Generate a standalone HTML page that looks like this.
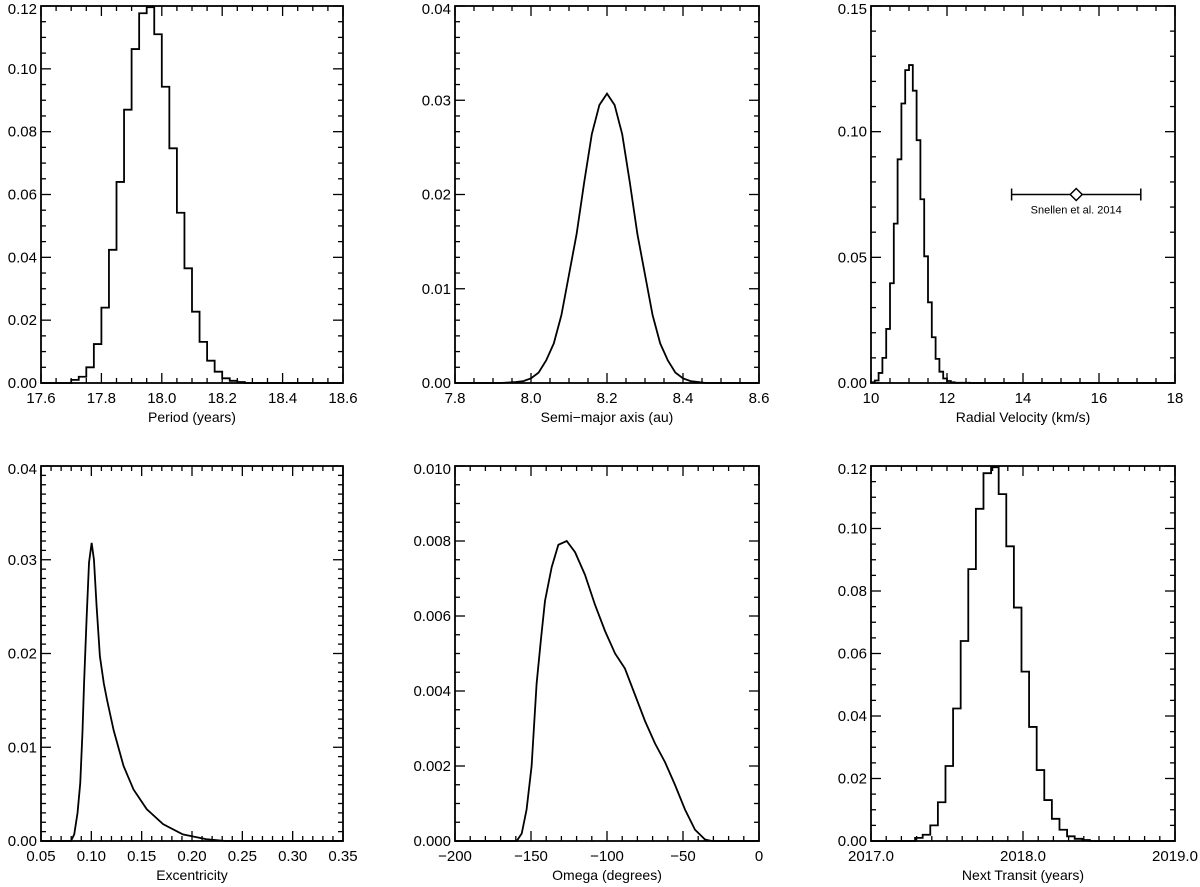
<!DOCTYPE html>
<html><head><meta charset="utf-8"><style>
html,body{margin:0;padding:0;background:#fff;}
svg{display:block;font-family:"Liberation Sans",sans-serif;}
</style></head><body>
<svg id="fig" width="1200" height="887" viewBox="0 0 1200 887" xmlns="http://www.w3.org/2000/svg"></svg>
<script>
// ---- Data ----
const periodBinStart = 17.6;
const periodBinWidth = 0.025;
const periodValues = [0,0,0,0,0.001,0.002,0.005,0.0124,0.024,0.0424,0.064,0.087,0.1063,0.1177,0.1196,0.111,0.0943,0.0747,0.0542,0.0365,0.0227,0.0131,0.0071,0.0036,0.0015,0.0007,0.0003,0,0];
const smaX = [7.90,7.92,7.94,7.96,7.98,8.00,8.02,8.04,8.06,8.08,8.10,8.12,8.14,8.16,8.18,8.20,8.22,8.24,8.26,8.28,8.30,8.32,8.34,8.36,8.38,8.40,8.42,8.44,8.46,8.50];
const smaY = [0,0,0.00005,0.0001,0.0002,0.0005,0.0011,0.0024,0.0042,0.0072,0.0115,0.0158,0.0213,0.0264,0.0295,0.0307,0.0295,0.0264,0.0213,0.0158,0.0115,0.0072,0.0042,0.0024,0.0011,0.0005,0.0002,0.0001,0,0];
const rvBinStart = 10.0;
const rvBinWidth = 0.1;
const rvValues = [0.0003,0.001,0.004,0.010,0.0215,0.0397,0.0634,0.089,0.1112,0.1245,0.1265,0.1163,0.0966,0.0731,0.0504,0.0321,0.0182,0.0096,0.0045,0.0018,0.0008,0.0003,0.0001,0.0001,0.0001,0.0001,0];
const snellenRV = [15.4];
const snellenErrLow = [13.7];
const snellenErrHigh = [17.1];
const snellenLevel = [0.075];
const eccX = [0.07,0.0797,0.083,0.0863,0.089,0.0912,0.0928,0.0954,0.0977,0.1003,0.1026,0.1052,0.1085,0.1124,0.1157,0.1222,0.132,0.1419,0.155,0.1713,0.1909,0.2138,0.2334,0.26];
const eccY = [0,0,0.0007,0.003,0.0062,0.0116,0.0169,0.024,0.0297,0.0318,0.030,0.0251,0.0197,0.0168,0.0150,0.0118,0.008,0.0055,0.0034,0.0018,0.0007,0.0002,0,0];
const omegaX = [-170,-159.4,-156.1,-152.9,-149.6,-146.3,-143.4,-140.8,-136.4,-132,-126.5,-121,-114.5,-107.9,-101.3,-94.7,-88.2,-81.6,-75,-68.4,-61.8,-55.3,-48.7,-42.1,-35.5,-31.1,-20];
const omegaY = [0,0,0.0002,0.00084,0.002,0.0042,0.0054,0.0064,0.0073,0.0079,0.008,0.0077,0.0071,0.0063,0.0056,0.005,0.0046,0.0039,0.0032,0.0026,0.0021,0.0015,0.00084,0.0003,0.00004,0,0];
const transitBinStart = 2017.09;
const transitBinWidth = 0.05;
const transitValues = [0,0,0,0,0.001,0.002,0.005,0.0124,0.024,0.0424,0.064,0.087,0.1063,0.1177,0.1196,0.111,0.0943,0.0747,0.0542,0.0365,0.0227,0.0131,0.0071,0.0036,0.0015,0.0007,0.0003,0,0];
// tick labels
const p1XTicks = ["17.6","17.8","18.0","18.2","18.4","18.6"];
const p1YTicks = ["0.00","0.02","0.04","0.06","0.08","0.10","0.12"];
const p2XTicks = ["7.8","8.0","8.2","8.4","8.6"];
const p2YTicks = ["0.00","0.01","0.02","0.03","0.04"];
const p3XTicks = ["10","12","14","16","18"];
const p3YTicks = ["0.00","0.05","0.10","0.15"];
const p4XTicks = ["0.05","0.10","0.15","0.20","0.25","0.30","0.35"];
const p4YTicks = ["0.00","0.01","0.02","0.03","0.04"];
const p5XTicks = ["\u2212200","\u2212150","\u2212100","\u221250","0"];
const p5YTicks = ["0.000","0.002","0.004","0.006","0.008","0.010"];
const p6XTicks = ["2017.0","2018.0","2019.0"];
const p6YTicks = ["0.00","0.02","0.04","0.06","0.08","0.10","0.12"];

const NS = "http://www.w3.org/2000/svg";
const svg = document.getElementById('fig');
function mk(tag, attrs, parent){const e=document.createElementNS(NS,tag);for(const k in attrs)e.setAttribute(k,attrs[k]);(parent||svg).appendChild(e);return e;}

function panel(cfg){
  const g = mk('g',{});
  
  
  const L=cfg.L,R=cfg.R,T=cfg.T,B=cfg.B;
  const sx=v=>L+(v-cfg.x0)/(cfg.x1-cfg.x0)*(R-L);
  const sy=v=>B-(v-cfg.y0)/(cfg.y1-cfg.y0)*(B-T);
  const tg = mk('g',{stroke:'#000','stroke-width':1.3},g);
  
  
  const nxMaj = cfg.xt.length-1;
  for(let i=0;i<=nxMaj*cfg.xsub;i++){
    const v=cfg.x0+(cfg.x1-cfg.x0)*i/(nxMaj*cfg.xsub);
    const x=sx(v); const len=(i%cfg.xsub===0)?10:5;
    mk('line',{x1:x,y1:B,x2:x,y2:B-len},tg);
    mk('line',{x1:x,y1:T,x2:x,y2:T+len},tg);
  }
  const nyMaj = cfg.yt.length-1;
  for(let i=0;i<=nyMaj*cfg.ysub;i++){
    const v=cfg.y0+(cfg.y1-cfg.y0)*i/(nyMaj*cfg.ysub);
    const y=sy(v); const len=(i%cfg.ysub===0)?10:5;
    mk('line',{x1:L,y1:y,x2:L+len,y2:y},tg);
    mk('line',{x1:R,y1:y,x2:R-len,y2:y},tg);
  }
  cfg.xt.forEach((t,i)=>{
    const v=cfg.x0+(cfg.x1-cfg.x0)*i/nxMaj;
    const tx=mk('text',{x:sx(v),y:B+20,'text-anchor':'middle','font-size':15},g);
    
    
    tx.textContent=t;
  });
  cfg.yt.forEach((t,i)=>{
    const v=cfg.y0+(cfg.y1-cfg.y0)*i/nyMaj;
    let y=sy(v)+5; if(i===nyMaj) y=sy(v)+8;
    const tx=mk('text',{x:L-4,y:y,'text-anchor':'end','font-size':15},g);
    
    
    tx.textContent=t;
  });
  const title=mk('text',{x:(L+R)/2,y:B+39,'text-anchor':'middle','font-size':14},g);
  
  
  title.textContent=cfg.title;
  let d='';
  if(cfg.bins){
    const vals=cfg.bins.values;
    d='M'+L+','+B;
    vals.forEach((v,i)=>{
      const xa=sx(cfg.bins.start+i*cfg.bins.width), xb=sx(cfg.bins.start+(i+1)*cfg.bins.width);
      d+=' L'+xa.toFixed(2)+','+sy(v).toFixed(2)+' L'+xb.toFixed(2)+','+sy(v).toFixed(2);
    });
    d+=' L'+R+','+B;
  } else {
    d='M'+L+','+B;
    cfg.xs.forEach((xv,i)=>{ d+=' L'+sx(xv).toFixed(2)+','+sy(cfg.ys[i]).toFixed(2); });
    d+=' L'+R+','+B;
  }
  const p=mk('path',{d:d,fill:'none',stroke:'#000','stroke-width':1.8,'stroke-linejoin':'miter'},g);
  
  
  const fr=mk('rect',{x:L,y:T,width:R-L,height:B-T,fill:'none',stroke:'#000','stroke-width':1.8},g);
  
  
  return {sx,sy,g};
}

const r1T=6,r1B=383,r2T=466,r2B=841;
const c1=[41,343],c2=[455,759],c3=[871,1175];

panel({name:'period-panel',L:c1[0],R:c1[1],T:r1T,B:r1B,x0:17.6,x1:18.6,y0:0,y1:0.12,xt:p1XTicks,yt:p1YTicks,xsub:4,ysub:4,title:'Period (years)',bins:{start:periodBinStart,width:periodBinWidth,values:periodValues}});
panel({name:'semimajor-panel',L:c2[0],R:c2[1],T:r1T,B:r1B,x0:7.8,x1:8.6,y0:0,y1:0.04,xt:p2XTicks,yt:p2YTicks,xsub:4,ysub:6,title:'Semi\u2212major axis (au)',xs:smaX,ys:smaY});
const rv=panel({name:'rv-panel',L:c3[0],R:c3[1],T:r1T,B:r1B,x0:10,x1:18,y0:0,y1:0.15,xt:p3XTicks,yt:p3YTicks,xsub:4,ysub:5,title:'Radial Velocity (km/s)',bins:{start:rvBinStart,width:rvBinWidth,values:rvValues}});
panel({name:'eccentricity-panel',L:c1[0],R:c1[1],T:r2T,B:r2B,x0:0.05,x1:0.35,y0:0,y1:0.04,xt:p4XTicks,yt:p4YTicks,xsub:5,ysub:10,title:'Excentricity',xs:eccX,ys:eccY});
panel({name:'omega-panel',L:c2[0],R:c2[1],T:r2T,B:r2B,x0:-200,x1:0,y0:0,y1:0.010,xt:p5XTicks,yt:p5YTicks,xsub:5,ysub:4,title:'Omega (degrees)',xs:omegaX,ys:omegaY});
panel({name:'transit-panel',L:c3[0],R:c3[1],T:r2T,B:r2B,x0:2017,x1:2019,y0:0,y1:0.12,xt:p6XTicks,yt:p6YTicks,xsub:10,ysub:4,title:'Next Transit (years)',bins:{start:transitBinStart,width:transitBinWidth,values:transitValues}});

{
  const g=mk('g',{stroke:'#000','stroke-width':1.5,fill:'none'},rv.g);
  
  
  const y=rv.sy(snellenLevel[0]), xl=rv.sx(snellenErrLow[0]), xh=rv.sx(snellenErrHigh[0]), xc=rv.sx(snellenRV[0]);
  mk('line',{x1:xl,y1:y,x2:xh,y2:y},g);
  mk('line',{x1:xl,y1:y-6,x2:xl,y2:y+6},g);
  mk('line',{x1:xh,y1:y-6,x2:xh,y2:y+6},g);
  mk('path',{d:`M${xc-6},${y} L${xc},${y-6} L${xc+6},${y} L${xc},${y+6} Z`,fill:'#fff'},g);
  const t=mk('text',{x:xc,y:y+19,'text-anchor':'middle','font-size':11},rv.g);
  
  
  t.textContent='Snellen et al. 2014';
}
</script>
</body></html>
